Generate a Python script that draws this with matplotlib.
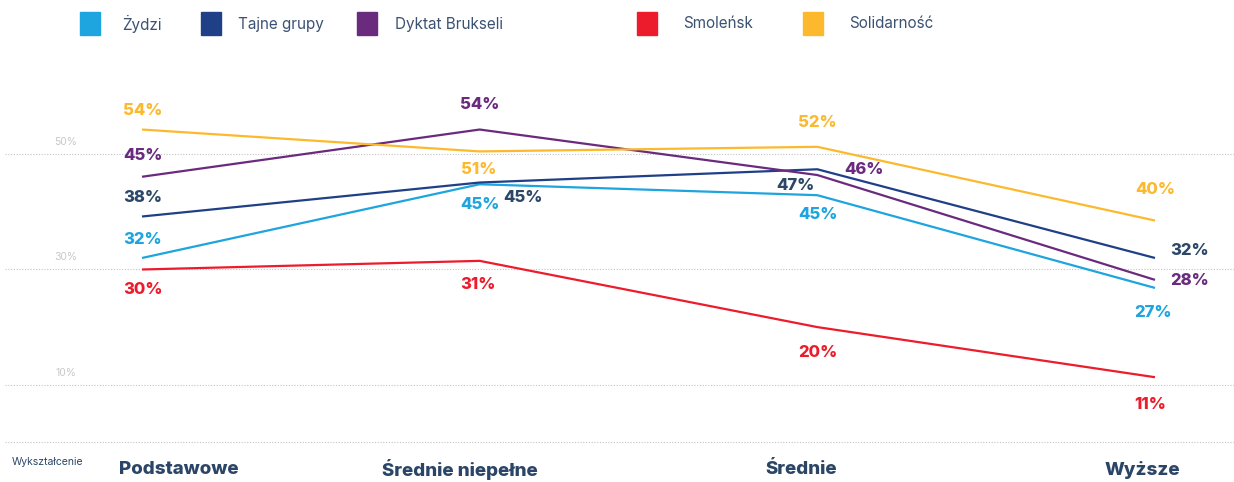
import matplotlib.pyplot as plt
from matplotlib.patches import Rectangle
import numpy as np

plt.rcParams['font.family'] = ['Inter', 'DejaVu Sans']

# poziomy wykształcenia
kategorie = ['Podstawowe', 'Średnie niepełne', 'Średnie', 'Wyższe']
serie = ['Żydzi', 'Tajne grupy', 'Dyktat Brukseli', 'Smoleńsk', 'Solidarność']

zydzi = [32.0, 44.8, 42.9, 26.8]
tajne = [39.2, 45.1, 47.4, 32.0]
dyktat = [46.1, 54.3, 46.4, 28.2]
smolensk = [30.0, 31.5, 20.0, 11.3]
solidarnosc = [54.3, 50.5, 51.3, 38.5]

# etykiety wypisane na wykresie
et_zydzi = ['32%', '45%', '45%', '27%']
et_tajne = ['38%', '45%', '47%', '32%']
et_dyktat = ['45%', '54%', '46%', '28%']
et_smolensk = ['30%', '31%', '20%', '11%']
et_solidarnosc = ['54%', '51%', '52%', '40%']

kolory = ['#1ea4de', '#1f3f87', '#6a2b7f', '#ec1c2c', '#fdb92d']
kolory_etykiet = ['#1ea4de', '#2c4767', '#6a2b7f', '#ec1c2c', '#fdb92d']

wartosci = [zydzi, tajne, dyktat, smolensk, solidarnosc]
etykiety = [et_zydzi, et_tajne, et_dyktat, et_smolensk, et_solidarnosc]

# przesunięcia etykiet w pikselach (dx, dy), dy w górę
przes = [
    [(1, 18), (0, -20), (1, -19), (-2, -25)],
    [(1, 19), (43, -15), (-22, -16), (35, 7)],
    [(1, 21), (0, 25), (47, 6), (35, -1)],
    [(1, -20), (-2, -24), (1, -25), (-5, -27)],
    [(1, 19), (-1, -18), (0, 24), (0, 31)],
]

W, H = 1234, 482
fig = plt.figure(figsize=(W / 100, H / 100), dpi=100)
ax = fig.add_axes([0, 0, 1, 1])

x = np.arange(len(kategorie))
px0, pxs = 142, (1155 - 142) / 3
ax.set_xlim(-px0 / pxs, (W - px0) / pxs)
ax.set_ylim(30 - (482 - 269.5) / 5.76, 30 + 269.5 / 5.76)
ax.axis('off')

# linie siatki
x_lewo = (5 - px0) / pxs
for g in [50, 30, 10, 0]:
    ax.hlines(g, x_lewo, ax.get_xlim()[1], colors='#c4c4c4', linestyles=(0, (1, 1.5)), linewidth=0.8)
    if g > 0:
        ax.annotate('%d%%' % g, (x_lewo, g), xytext=(61, 12), textcoords='offset pixels',
                    ha='center', va='center', fontsize=7.5, color='#c8c8c8')

for i in range(len(serie)):
    ax.plot(x, wartosci[i], color=kolory[i], linewidth=1.6, solid_capstyle='butt', zorder=3)
    for j in range(len(kategorie)):
        dx, dy = przes[i][j]
        ax.annotate(etykiety[i][j], (x[j], wartosci[i][j]), xytext=(dx, dy),
                    textcoords='offset pixels', ha='center', va='center',
                    fontsize=12, fontweight='heavy', color=kolory_etykiet[i])

# podpisy kategorii
pozycje_podpisow = [179, 460, 801, 1142]
for k, px in zip(kategorie, pozycje_podpisow):
    fig.text(px / W, 1 - 470 / H, k, ha='center', va='center', fontsize=13.5,
             fontweight='heavy', color='#2b4566')
fig.text(12 / W, 1 - 462 / H, 'Wykształcenie', ha='left', va='center', fontsize=7.5, color='#2b4566')

# legenda
leg_kw = [80, 201, 357, 637, 803]
leg_tx = [122, 238, 395, 683, 849]
for i, s in enumerate(serie):
    fig.patches.append(Rectangle((leg_kw[i] / W, 1 - 35 / H), 20 / W, 23 / H,
                                 transform=fig.transFigure, color=kolory[i]))
    fig.text(leg_tx[i] / W, 1 - 24 / H, s, ha='left', va='center', fontsize=11, color='#3b5273')

fig.savefig('out.png', dpi=100)
